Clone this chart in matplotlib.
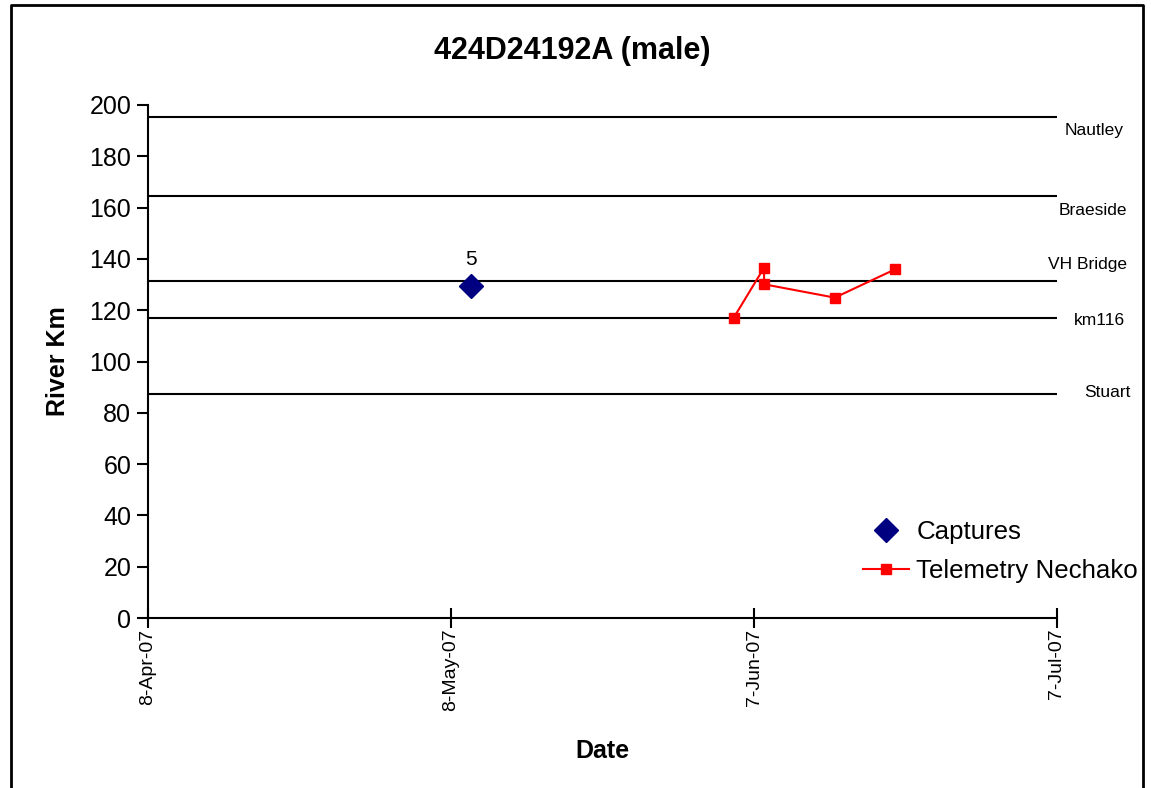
import matplotlib
matplotlib.use("Agg")
import matplotlib.pyplot as plt
import matplotlib.dates as mdates
from matplotlib.transforms import blended_transform_factory
from datetime import datetime

plt.rcParams['font.family'] = ['Liberation Sans', 'DejaVu Sans']

# Capture record
capture_dates = [datetime(2007, 5, 10)]
capture_km = [129.6]
capture_labels = ["5"]

# Telemetry detections on the Nechako
telemetry_dates = [datetime(2007, 6, 5), datetime(2007, 6, 8), datetime(2007, 6, 8),
                   datetime(2007, 6, 15), datetime(2007, 6, 21)]
telemetry_km = [117.1, 136.6, 130.1, 124.9, 136.0]

# Reference stations along the river
station_names = ["Nautley", "Braeside", "VH Bridge", "km116", "Stuart"]
station_km = [195.5, 164.5, 131.5, 117.0, 87.3]
station_label_km = [190.0, 159.0, 138.0, 116.0, 88.0]

x_ticks = [datetime(2007, 4, 8), datetime(2007, 5, 8), datetime(2007, 6, 7), datetime(2007, 7, 7)]
x_tick_labels = ["8-Apr-07", "8-May-07", "7-Jun-07", "7-Jul-07"]
y_ticks = list(range(0, 201, 20))

W, H = 1151, 788
fig = plt.figure(figsize=(W / 100, H / 100), dpi=100)
ax = fig.add_axes([148 / W, 1 - 618 / H, (1057 - 148) / W, (618 - 105) / H])

xmin, xmax = mdates.date2num(x_ticks[0]), mdates.date2num(x_ticks[-1])
ax.set_xlim(xmin, xmax)
ax.set_ylim(0, 200)

for km in station_km:
    ax.plot([xmin, xmax], [km, km], color='black', lw=1.5, zorder=1)

ax.plot(capture_dates, capture_km, linestyle='none', marker='D', markersize=12,
        color='#000080', label='Captures', zorder=3)
for d, k, t in zip(capture_dates, capture_km, capture_labels):
    ax.annotate(t, (mdates.date2num(d), k), xytext=(0, 12), textcoords='offset points',
                ha='center', va='bottom', fontsize=15)

ax.plot(telemetry_dates, telemetry_km, color='#ff0000', lw=1.5, marker='s',
        markersize=6.5, label='Telemetry Nechako', zorder=3)

# Station names to the right of the plotting area
trans = blended_transform_factory(fig.transFigure, ax.transData)
station_label_x = [1124, 1127, 1127, 1125, 1131]
for name, k, px in zip(station_names, station_label_km, station_label_x):
    fig.text(px / W, k, name, transform=trans, ha='right', va='center', fontsize=12.5)

ax.set_xticks([mdates.date2num(d) for d in x_ticks])
ax.set_xticklabels(x_tick_labels, rotation=90, fontsize=14)
ax.set_yticks(y_ticks)
ax.tick_params(axis='y', labelsize=18, direction='out', length=8, width=1.5, pad=4)
ax.tick_params(axis='x', direction='inout', length=15, width=1.5, pad=0)

for s in ['top', 'right']:
    ax.spines[s].set_visible(False)
for s in ['left', 'bottom']:
    ax.spines[s].set_linewidth(1.5)

ax.set_xlabel('Date', fontsize=18, fontweight='bold', labelpad=20)
ax.set_ylabel('River Km', fontsize=18, fontweight='bold', labelpad=14)
fig.text(572 / W, 1 - 51 / H, '424D24192A (male)', ha='center', va='center',
         fontsize=22, fontweight='bold')

leg = ax.legend(loc='lower right', bbox_to_anchor=(1151 / W, 1 - 596 / H),
                bbox_transform=fig.transFigure, frameon=False, fontsize=18.6,
                handlelength=1.75, handletextpad=0.3, labelspacing=0.6, borderpad=0)

# Outer chart border (open at the bottom)
fig.add_artist(plt.Line2D([11 / W, 11 / W, 1143 / W, 1143 / W],
                          [0, 1 - 5 / H, 1 - 5 / H, 0], color='black', lw=2,
                          transform=fig.transFigure))

fig.savefig('out.png', dpi=100)
